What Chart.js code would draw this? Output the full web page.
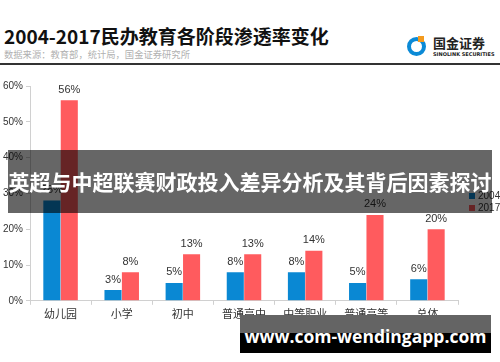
<!DOCTYPE html>
<html>
<head>
<meta charset="utf-8">
<script src="https://cdn.jsdelivr.net/npm/chart.js@4"></script>
<style>
  body { margin: 0; width: 500px; height: 362px; background: #fff; position: relative; overflow: hidden; font-family: "Noto Sans CJK SC", "Noto Sans", sans-serif; }
  #title { position: absolute; left: 4px; top: 22px; font-size: 19px; font-weight: bold; color: #111; white-space: nowrap; }
  #source { position: absolute; left: 4px; top: 47px; font-size: 9.3px; color: #b0b0b0; white-space: nowrap; }
  #rule { position: absolute; left: 0; top: 63px; width: 500px; height: 2px; background: #333; }
  #logo { position: absolute; left: 407px; top: 35px; }
  #logo .ring { position: absolute; left: 0; top: 2px; width: 11px; height: 11px; border-radius: 50%; border: 4px solid #0b8ad6; }
  #logo .sq { position: absolute; left: 11px; top: 1px; width: 6px; height: 6px; background: #f39a1e; }
  #logo .cn { position: absolute; left: 26px; top: -2px; font-size: 13px; font-weight: bold; color: #222; white-space: nowrap; }
  #logo .en { position: absolute; left: 26px; top: 16px; font-size: 5px; font-weight: bold; color: #222; white-space: nowrap; font-family: "DejaVu Sans", sans-serif; }
  #wrap { position: absolute; left: 0; top: 70px; width: 500px; height: 252px; }
  .leg { position: absolute; left: 469px; font-size: 10px; color: #333; font-family: "Liberation Sans", sans-serif; white-space: nowrap; }
  .leg i { display: inline-block; width: 6px; height: 6px; margin-right: 3px; }
  #banner { position: absolute; left: 8px; top: 150px; width: 484px; height: 63px; background: rgba(0,0,0,0.6); color: #fff; font-size: 21px; font-weight: bold; line-height: 63px; text-align: center; white-space: nowrap; }
  #site { position: absolute; left: 240px; top: 315px; width: 251px; height: 38px; background: linear-gradient(#646464 0, #646464 48%, #000 48%, #000 100%); color: #fff; font-size: 17.5px; font-weight: bold; line-height: 42px; text-align: center; white-space: nowrap; font-family: "Open Sans", "DejaVu Sans", sans-serif; }
</style>
</head>
<body>
<div id="title">2004-2017民办教育各阶段渗透率变化</div>
<div id="source">数据来源：教育部，统计局，国金证券研究所</div>
<div id="rule"></div>
<div id="logo"><div class="ring"></div><div class="sq"></div><div class="cn">国金证券</div><div class="en">SINOLINK SECURITIES</div></div>
<div id="wrap"><canvas id="myChart"></canvas></div>
<div class="leg" style="top:190px"><i style="background:#0a88d3"></i>2004</div>
<div class="leg" style="top:202px"><i style="background:#ff5b5e"></i>2017</div>
<div id="banner">英超与中超联赛财政投入差异分析及其背后因素探讨</div>
<div id="site">www.com-wendingapp.com</div>
<script>
const categories = ['幼儿园', '小学', '初中', '普通高中', '中等职业', '普通高等', '总体'];
const values2004 = [28, 3, 5, 8, 8, 5, 6];
const values2017 = [56, 8, 13, 13, 14, 24, 20];
const yTicks = [0, 10, 20, 30, 40, 50, 60];

// draw the % labels above each bar
const barLabels = {
    id: 'barLabels',
    afterDatasetsDraw(chart) {
        const ctx = chart.ctx;
        ctx.save();
        ctx.font = '11px "Liberation Sans", sans-serif';
        ctx.fillStyle = '#333';
        ctx.textAlign = 'center';
        ctx.textBaseline = 'bottom';
        chart.data.datasets.forEach((ds, i) => {
            chart.getDatasetMeta(i).data.forEach((bar, j) => {
                ctx.fillText(ds.data[j] + '%', bar.x, bar.y - 5);
            });
        });
        ctx.restore();
    }
};

const ctx = document.getElementById('myChart').getContext('2d');
const myChart = new Chart(ctx, {
    type: 'bar',
    data: {
        labels: categories,
        datasets: [
            { label: '2004', data: values2004, backgroundColor: '#0a88d3', barPercentage: 0.98, categoryPercentage: 0.57 },
            { label: '2017', data: values2017, backgroundColor: '#ff5b5e', barPercentage: 0.98, categoryPercentage: 0.57 }
        ]
    },
    plugins: [barLabels],
    options: {
        responsive: true,
        maintainAspectRatio: false,
        animation: false,
        layout: { padding: { top: 16, right: 42, left: 0, bottom: 0 } },
        plugins: { legend: { display: false }, tooltip: { enabled: false } },
        scales: {
            x: {
                grid: { display: true, drawOnChartArea: false, offset: true, tickLength: 4, color: '#d0d0d0' },
                border: { color: '#d0d0d0' },
                ticks: { color: '#333', font: { size: 11, family: '"Noto Sans CJK SC"' }, padding: 2 }
            },
            y: {
                min: 0,
                max: 60,
                afterFit(scale) { scale.width = 30; },
                afterBuildTicks(scale) { scale.ticks = yTicks.map(v => ({ value: v })); },
                grid: { display: true, drawOnChartArea: false, tickLength: 4, color: '#d0d0d0' },
                border: { color: '#d0d0d0' },
                ticks: { color: '#333', font: { size: 10, family: '"Liberation Sans"' }, padding: 3, callback: v => v + '%' }
            }
        }
    }
});
</script>
</body>
</html>
